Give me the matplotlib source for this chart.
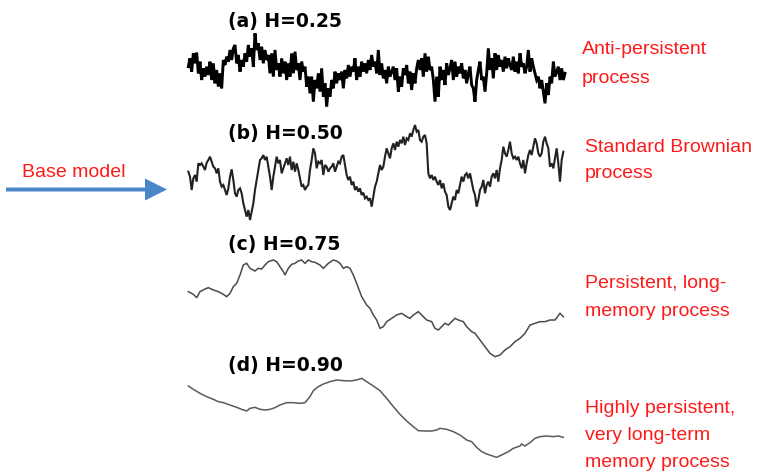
import numpy as np
import matplotlib
matplotlib.use("Agg")
import matplotlib.pyplot as plt
from matplotlib.patches import FancyArrow

# ---- data: trace levels (arbitrary units, larger = lower on page) ----
# common time axis 0..1200 for all four panels
panel_titles = ["(a) H=0.25", "(b) H=0.50", "(c) H=0.75", "(d) H=0.90"]
panel_notes = [
    ["Anti-persistent", "process"],
    ["Standard Brownian", "process"],
    ["Persistent, long-", "memory process"],
    ["Highly persistent,", "very long-term", "memory process"],
]
base_label = "Base model"

# (a) H=0.25, uniform samples from t=25 to t=1155
level_a = [
    110, 85, 125, 70, 100, 68, 130, 95, 150, 115,
    140, 110, 135, 95, 150, 100, 160, 120, 170, 130,
    175, 90, 105, 80, 95, 60, 90, 55, 45, 100,
    75, 125, 90, 110, 70, 95, 45, 80, 55, 110,
    10, 60, 40, 90, 50, 100, 60, 90, 75, 130,
    70, 140, 60, 120, 100, 140, 85, 130, 95, 150,
    100, 140, 70, 130, 65, 120, 100, 150, 95, 125,
    110, 170, 140, 190, 140, 215, 150, 175, 130, 185,
    115, 200, 160, 230, 175, 200, 150, 175, 125, 160,
    130, 150, 125, 175, 120, 145, 105, 140, 110, 125,
    85, 150, 110, 140, 95, 125, 100, 130, 90, 120,
    75, 110, 95, 130, 60,
    135, 100, 145, 120, 160, 110, 140, 125, 110, 150,
    115, 185, 140, 170, 115, 135, 105, 160, 125, 180,
    130, 160, 115, 90, 120, 85, 140, 70, 125, 80,
    120, 110, 150, 215, 140, 200, 110, 150, 120, 165,
    100, 135, 115, 90, 150, 95, 140, 110, 130, 100,
    145, 120, 160, 130, 110, 165, 175, 215, 150, 120,
    95, 150, 140, 185, 130, 55, 120, 85, 145, 70,
    120, 75, 110, 90, 125, 80, 115, 85, 105, 120,
    80, 125, 95, 130, 70, 110, 100, 130, 110, 60,
    125, 85, 110, 130, 150, 140, 175, 150, 185, 220,
    160, 195, 140, 160, 95, 140, 125, 110, 150, 115,
    150, 130,
]

# (b) H=0.50, uniform samples from t=25 to t=1150
level_b = [
    185, 200, 240, 205, 195, 215, 160, 165, 160, 170,
    180, 158, 150, 140, 155, 170, 175, 190, 175, 215,
    230, 225, 240, 255, 235, 200, 178, 210, 250, 260,
    240, 235, 250, 280, 300, 320, 300, 330, 305, 280,
    240, 210, 180, 150, 145, 135, 150, 140, 170, 200,
    240, 200, 170, 140, 160, 150, 190, 175, 160, 145,
    165, 140, 180, 155, 185, 160, 180, 205, 230, 225,
    240, 230, 225, 180, 150, 115, 130, 175, 155, 160,
    150, 195, 165, 170, 185, 175, 170, 160, 185, 170,
    155, 160, 140, 135, 165, 195, 210, 200, 225, 215,
    240, 230, 245, 235, 255, 248, 265, 260, 270, 265,
    290, 260, 230, 215, 190, 165, 180, 170, 140, 115,
    130, 145, 115, 100, 120, 95, 110, 90, 100, 80,
    105, 85, 90, 70, 80, 60, 45, 65, 60, 90,
    95, 80, 75, 100, 190, 205, 195, 210, 200, 215,
    225, 210, 235, 220, 245, 255, 290, 300, 280, 260,
    270, 240, 250, 225, 200, 215, 195, 190, 205, 190,
    215, 240, 255, 290, 270, 240, 230, 210, 250, 225,
    215, 230, 200, 190, 205, 180, 215, 175, 150, 110,
    130, 140, 120, 95, 130, 145, 140, 150, 140, 160,
    175, 150, 190, 160, 135, 120, 135, 110, 85, 100,
    130, 140, 130, 95, 80, 100, 115, 170, 160, 175,
    145, 115, 160, 215, 150, 125,
]

# (c) H=0.75
time_c = [25, 40, 50, 60, 75, 85, 100, 115, 130, 140, 150, 160, 170, 180, 190, 200, 210, 225, 235, 245,
          255, 265, 280, 290, 300, 310, 315, 325, 335, 345, 355, 365, 375, 385, 395, 405, 420, 430, 445, 460,
          470, 480, 490, 500, 510, 520, 530, 545, 560, 570, 580, 590, 600, 610, 620, 635, 650, 665, 680, 690,
          700, 715, 725, 740, 755, 765, 775, 785, 795, 805, 815, 825, 835, 850, 860, 875, 885, 900, 915, 930,
          945, 960, 975, 990, 1005, 1020, 1035, 1050, 1065, 1080, 1095, 1110, 1125, 1140, 1150]
level_c = [200, 208, 218, 200, 192, 188, 195, 200, 208, 215, 205, 185, 175, 150, 120, 115, 130, 138, 130, 132,
           120, 110, 105, 110, 125, 140, 150, 130, 118, 115, 108, 105, 115, 105, 110, 112, 120, 130, 115, 105,
           108, 115, 130, 125, 130, 150, 175, 215, 240, 250, 270, 285, 310, 305, 290, 280, 270, 265, 275, 280,
           270, 260, 270, 285, 290, 310, 315, 305, 295, 300, 290, 280, 285, 290, 305, 320, 325, 345, 365, 385,
           395, 390, 375, 365, 350, 340, 325, 300, 295, 290, 290, 285, 285, 265, 275]

# (d) H=0.90
time_d = [25, 40, 60, 80, 100, 115, 130, 150, 170, 185, 200, 210, 225, 240, 255, 270, 285, 300, 320, 340,
          360, 375, 390, 400, 415, 430, 450, 470, 490, 510, 530, 545, 560, 580, 600, 620, 640, 660, 680, 700,
          715, 735, 755, 770, 780, 800, 820, 840, 860, 875, 890, 905, 920, 935, 950, 965, 985, 1000, 1020, 1025,
          1035, 1050, 1065, 1080, 1100, 1120, 1135, 1150]
level_d = [78, 88, 100, 110, 118, 125, 128, 135, 142, 148, 153, 145, 142, 148, 150, 148, 143, 135, 128, 128,
           130, 128, 110, 92, 80, 72, 65, 60, 62, 63, 60, 55, 65, 78, 92, 115, 140, 163, 183, 200,
           212, 213, 213, 210, 205, 208, 215, 225, 240, 245, 262, 275, 282, 287, 292, 285, 275, 265, 258, 252,
           258, 248, 235, 230, 228, 230, 228, 232]

time_a = np.linspace(25, 1155, len(level_a))
time_b = np.linspace(25, 1150, len(level_b))

W, H = 760, 476
fig = plt.figure(figsize=(W / 100, H / 100), dpi=100)
fig.patch.set_facecolor("white")


def fx(x):
    return x / W


def fy(y):
    return 1 - y / H


# panel boxes (top px, height px, level range)
panels = [
    (time_a, level_a, 30, 80, 240, "#000000", 2.1),
    (time_b, level_b, 110, 115, 345, "#222222", 1.5),
    (time_c, level_c, 225, 140, 420, "#4a4a4a", 1.1),
    (time_d, level_d, 360, 116, 348, "#5a5a5a", 1.1),
]
for t, lv, top, hpx, lmax, col, lw in panels:
    ax = fig.add_axes([fx(180), fy(top + hpx), fx(400), hpx / H])
    ax.plot(t, lv, color=col, lw=lw, solid_joinstyle="miter")
    ax.set_xlim(0, 1200)
    ax.set_ylim(lmax, 0)
    ax.axis("off")

# panel titles
title_y = [21, 133, 245, 365]
for txt, y in zip(panel_titles, title_y):
    fig.text(fx(228), fy(y), txt, fontsize=13.5, fontweight="bold", family="DejaVu Sans",
             ha="left", va="center", color="black")

red = "#ff1a1a"
note_baselines = [
    [54, 83],
    [152, 178],
    [288, 316],
    [413, 440, 467],
]
note_x = [582, 585, 585, 585]
for lines, bases, x in zip(panel_notes, note_baselines, note_x):
    for line, b in zip(lines, bases):
        fig.text(fx(x), fy(b), line, fontsize=14, family="Liberation Sans",
                 ha="left", va="baseline", color=red)

fig.text(fx(22), fy(177), base_label, fontsize=14, family="Liberation Sans",
         ha="left", va="baseline", color=red)

# blue arrow
arrow_ax = fig.add_axes([0, 0, 1, 1], zorder=-1)
arrow_ax.set_xlim(0, W)
arrow_ax.set_ylim(H, 0)
arrow_ax.axis("off")
arrow_ax.add_patch(FancyArrow(6, 189.5, 161, 0, width=4, head_width=22, head_length=22,
                              length_includes_head=True, color="#4a86c8", lw=0))

fig.savefig("out.png", dpi=100)
